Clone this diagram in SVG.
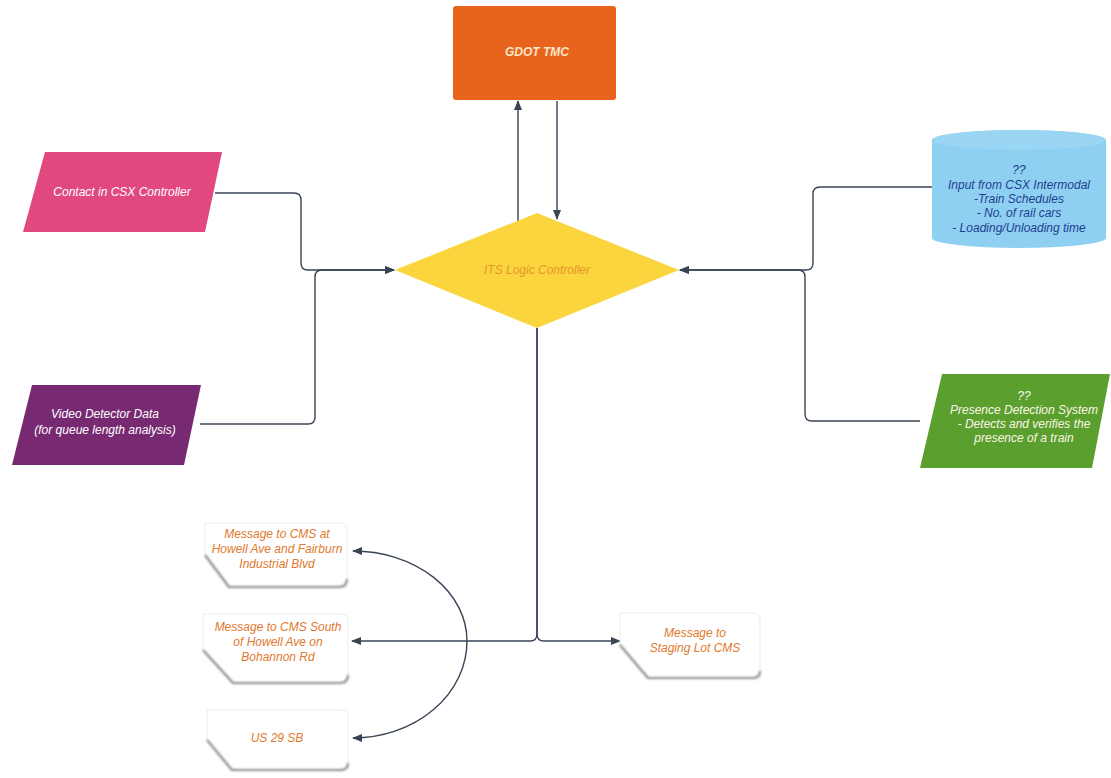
<svg xmlns="http://www.w3.org/2000/svg" width="1111" height="778" viewBox="0 0 1111 778">
  <defs>
    <marker id="arrow" markerUnits="userSpaceOnUse" markerWidth="10" markerHeight="8" refX="9" refY="4" orient="auto">
      <path d="M0,0 L10,4 L0,8 Z" fill="#3a4456"/>
    </marker>
    <filter id="soft" x="-10%" y="-10%" width="120%" height="120%">
      <feGaussianBlur stdDeviation="0.8"/>
    </filter>
    <style>
      .lbl { font-family: "Liberation Sans", Arial, sans-serif; font-size: 12px; font-style: italic; text-anchor: middle; }
      .light { fill: #ffffff; }
      .conn { fill: none; stroke: #3a4456; stroke-width: 1.4; }
      .disp { fill: #ffffff; stroke: #ececec; stroke-width: 1; }
      .dispEdge { fill: none; stroke: #8e8e8e; stroke-width: 2.2; stroke-linejoin: round; filter: url(#soft); }
      .msg { fill: #e2782c; }
    </style>
  </defs>
  <rect width="1111" height="778" fill="#ffffff"/>

  <!-- connectors -->
  <g id="connectors">
    <path class="conn" d="M215,193 H294 Q301,193 301,200 V263 Q301,270 308,270 H394" marker-end="url(#arrow)"/>
    <path class="conn" d="M200,424 H308 Q315,424 315,417 V277 Q315,270 322,270 H394" marker-end="url(#arrow)"/>
    <path class="conn" d="M932,187 H820 Q813,187 813,194 V263 Q813,270 806,270 H680" marker-end="url(#arrow)"/>
    <path class="conn" d="M920,421 H812 Q805,421 805,414 V277 Q805,270 798,270 H680" marker-end="url(#arrow)"/>
    <path class="conn" d="M518,221 V101" marker-end="url(#arrow)"/>
    <path class="conn" d="M557,101 V219" marker-end="url(#arrow)"/>
    <path class="conn" d="M537,328 V634 Q537,641 530,641 H352" marker-end="url(#arrow)"/>
    <path class="conn" d="M537,328 V634 Q537,641 544,641 H620" marker-end="url(#arrow)"/>
    <path class="conn" d="M467,641 A114,90 0 0 0 353,551" marker-end="url(#arrow)"/>
    <path class="conn" d="M467,641 A114,97 0 0 1 353,738" marker-end="url(#arrow)"/>
  </g>

  <!-- GDOT TMC -->
  <g id="gdot-tmc">
    <rect x="453" y="6" width="163" height="94" rx="3" fill="#e8641c"/>
    <text class="lbl" x="537" y="56" fill="#fbe7c9" font-weight="bold">GDOT TMC</text>
  </g>

  <!-- ITS Logic Controller -->
  <g id="its-logic-controller">
    <polygon points="537,213 679,270 537,328 395,270" fill="#fad53d"/>
    <text class="lbl" x="537" y="274" fill="#e8952e">ITS Logic Controller</text>
  </g>

  <!-- Contact in CSX Controller -->
  <g id="csx-contact">
    <polygon points="45,152 222,152 205,232 23,232" fill="#e0487f"/>
    <text class="lbl light" x="122" y="196">Contact in CSX Controller</text>
  </g>

  <!-- Video Detector Data -->
  <g id="video-detector">
    <polygon points="32,385 201,385 184,465 12,465" fill="#772a72"/>
    <text class="lbl light" x="105" y="418">Video Detector Data</text>
    <text class="lbl light" x="105" y="434">(for queue length analysis)</text>
  </g>

  <!-- CSX Intermodal input (cylinder) -->
  <g id="csx-intermodal">
    <path d="M932,140 A87,10 0 0 1 1106,140 V238 A87,10 0 0 1 932,238 Z" fill="#8fd0f2"/>
    <ellipse cx="1019" cy="140" rx="87" ry="10" fill="#9ad5f3"/>
    <g class="lbl" fill="#1d3e8f">
      <text x="1019" y="174">??</text>
      <text x="1019" y="189">Input from CSX Intermodal</text>
      <text x="1019" y="203">-Train Schedules</text>
      <text x="1019" y="217">- No. of rail cars</text>
      <text x="1019" y="232">- Loading/Unloading time</text>
    </g>
  </g>

  <!-- Presence Detection System -->
  <g id="presence-detection">
    <polygon points="942,374 1110,374 1092,468 920,468" fill="#5b9f2f"/>
    <g class="lbl" fill="#fbf6e4">
      <text x="1024" y="400">??</text>
      <text x="1024" y="414">Presence Detection System</text>
      <text x="1024" y="428">- Detects and verifies the</text>
      <text x="1024" y="442">presence of a train</text>
    </g>
  </g>

  <!-- CMS message displays -->
  <g id="cms-fairburn">
    <path class="disp" d="M205,523 H340 Q347,523 347,530 V579 Q347,587 339,587 H229 L205,555 Z"/>
    <path class="dispEdge" d="M205,555 L229,587 H339 Q347,587 347,579"/>
    <g class="lbl msg">
      <text x="277" y="538">Message to CMS at</text>
      <text x="277" y="553">Howell Ave and Fairburn</text>
      <text x="277" y="568">Industrial Blvd</text>
    </g>
  </g>

  <g id="cms-bohannon">
    <path class="disp" d="M203,614 H340 Q348,614 348,621 V675 Q348,683 340,683 H233 L203,650 Z"/>
    <path class="dispEdge" d="M203,650 L233,683 H340 Q348,683 348,675"/>
    <g class="lbl msg">
      <text x="278" y="631">Message to CMS South</text>
      <text x="278" y="646">of Howell Ave  on</text>
      <text x="278" y="661">Bohannon Rd</text>
    </g>
  </g>

  <g id="cms-us29">
    <path class="disp" d="M207,710 H341 Q348,710 348,717 V763 Q348,770 341,770 H232 L207,740 Z"/>
    <path class="dispEdge" d="M207,740 L232,770 H341 Q348,770 348,763"/>
    <text class="lbl msg" x="277" y="742">US 29 SB</text>
  </g>

  <g id="cms-staging">
    <path class="disp" d="M620,613 H753 Q760,613 760,620 V671 Q760,678 753,678 H648 L620,645 Z"/>
    <path class="dispEdge" d="M620,645 L648,678 H753 Q760,678 760,671"/>
    <g class="lbl msg">
      <text x="695" y="637">Message to</text>
      <text x="695" y="652">Staging Lot CMS</text>
    </g>
  </g>
</svg>
